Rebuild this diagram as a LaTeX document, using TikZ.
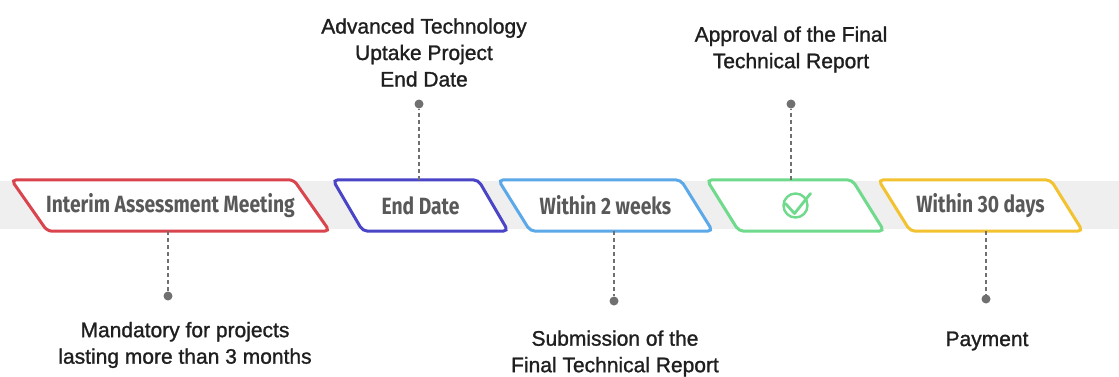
\documentclass[tikz,border=0pt]{standalone}
\usepackage{fontspec}
\setmainfont{Liberation Sans}
\newfontfamily\notefont[FakeBold=1.2]{Liberation Sans}
\newfontfamily\boxfont[FakeStretch=0.82]{Fira Sans}
\usetikzlibrary{positioning}

\definecolor{bandgray}{HTML}{EFEFEF}
\definecolor{boxtext}{HTML}{595959}
\definecolor{dotgray}{HTML}{707070}
\definecolor{cred}{HTML}{D9444D}
\definecolor{cindigo}{HTML}{4A44C6}
\definecolor{cblue}{HTML}{5BA9E8}
\definecolor{cgreen}{HTML}{6FDA8C}
\definecolor{cyellow}{HTML}{F2C230}

\pgfdeclarelayer{band}
\pgfdeclarelayer{shape}
\pgfsetlayers{band,shape,main}

\tikzset{
  stage/.style={minimum height=51pt, inner sep=0pt, text=boxtext,
    font=\boxfont\bfseries\fontsize{23.5}{26}\selectfont},
  slant/.style={draw=#1, line width=3pt, fill=white, rounded corners=5pt},
  tick/.style={draw=dotgray, dash pattern=on 4pt off 3pt, line width=1.2pt},
  pin/.style={circle, fill=dotgray, inner sep=0pt, minimum size=9pt},
  note/.style={align=center, text=black!88, font=\notefont\fontsize{21}{26.5}\selectfont}
}

\begin{document}
\begin{tikzpicture}[x=1pt, y=-1pt]
    \useasboundingbox (0,0) rectangle (1119,376);

    % stages on the timeline
    \node[stage, minimum width=282pt] (interim) at (170.5,205.5) {Interim Assessment Meeting};
    \node[stage, minimum width=145pt] (enddate) at (420.5,205.5) {End Date};
    \node[stage, minimum width=182pt] (twoweeks) at (605.5,205.5) {Within 2 weeks};
    \node[stage, minimum width=145pt] (approved) at (795.5,205.5) {};
    \node[stage, minimum width=172pt] (thirty) at (980.5,205.5) {Within 30 days};

    \begin{pgfonlayer}{band}
        \fill[bandgray] (0,181) rectangle (1119,229);
    \end{pgfonlayer}
    \begin{pgfonlayer}{shape}
        \foreach \n/\c/\s in {interim/cred/18, enddate/cindigo/15, twoweeks/cblue/16, approved/cgreen/16, thirty/cyellow/16}
            \draw[slant=\c] ([xshift=-\s pt]\n.north west) -- ([xshift=-\s pt]\n.north east)
                -- ([xshift=\s pt]\n.south east) -- ([xshift=\s pt]\n.south west) -- cycle;
    \end{pgfonlayer}

    % check mark
    \draw[cgreen, line width=2.4pt] (approved.center) circle [radius=12pt];
    \draw[cgreen, line width=2.8pt, line cap=round, line join=round]
        ([shift={(-10,-2)}]approved.center) -- ([shift={(-1,8)}]approved.center) -- ([shift={(15,-12)}]approved.center);

    % pins and notes
    \node[pin] (pinA) at (168,296) {};
    \node[pin] (pinB) at (419,104) {};
    \node[pin] (pinC) at (614,301) {};
    \node[pin] (pinD) at (791,104) {};
    \node[pin] (pinE) at (986,299) {};

    \node[note] (noteA) at (185,345) {Mandatory for projects\\lasting more than 3 months};
    \node[note] (noteB) at (424,52.5) {Advanced Technology\\Uptake Project\\End Date};
    \node[note] (noteC) at (615,353.5) {Submission of the\\Final Technical Report};
    \node[note] (noteD) at (791,49.5) {Approval of the Final\\Technical Report};
    \node[note] (noteE) at (987,341) {Payment};

    \draw[tick] (interim.south -| pinA) -- (pinA);
    \draw[tick] (enddate.north -| pinB) -- (pinB);
    \draw[tick] (twoweeks.south -| pinC) -- (pinC);
    \draw[tick] (approved.north -| pinD) -- (pinD);
    \draw[tick] (thirty.south -| pinE) -- (pinE);
\end{tikzpicture}
\end{document}
